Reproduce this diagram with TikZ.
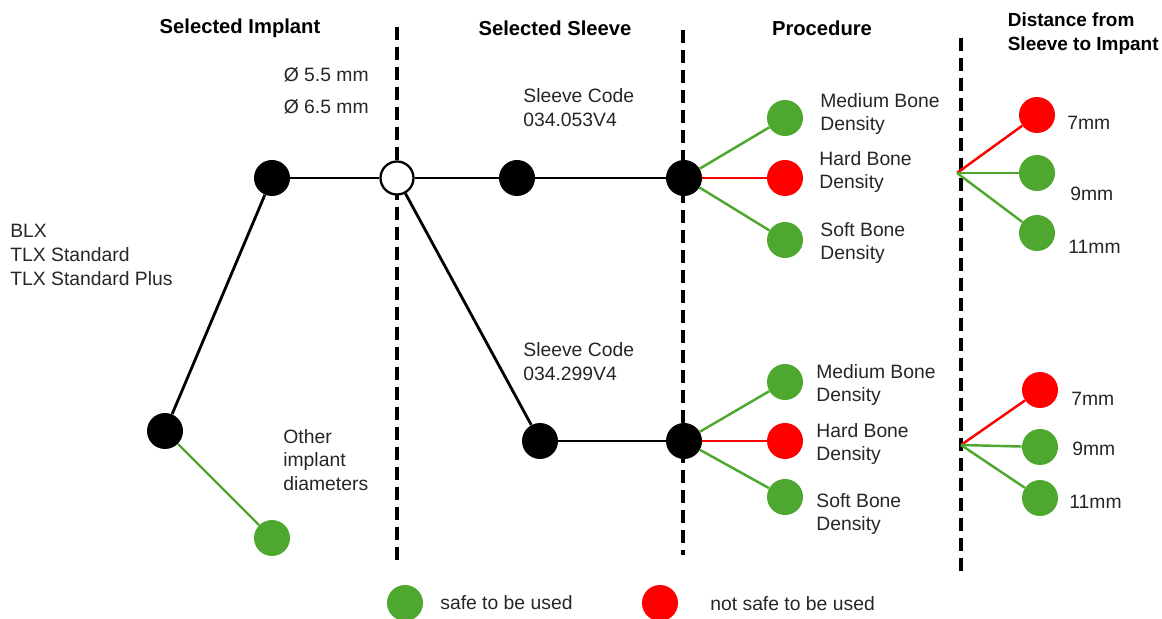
\documentclass[tikz,border=0pt]{standalone}
\usepackage{fontspec}
\setmainfont{Liberation Sans}
\usepackage{xcolor}
\usepackage{tikz}
\usetikzlibrary{positioning}
\definecolor{safeGreen}{HTML}{4EA72E}
\definecolor{unsafeRed}{HTML}{FF0000}
\definecolor{textGray}{HTML}{262626}

\begin{document}
\begin{tikzpicture}[x=0.2mm, y=-0.2mm,
    dot/.style={circle, fill=black, inner sep=0pt, minimum size=7.2mm},
    opendot/.style={circle, draw=black, fill=white, line width=1.3pt, inner sep=0pt, minimum size=6.6mm},
    safe/.style={circle, fill=safeGreen, inner sep=0pt, minimum size=7.2mm},
    unsafe/.style={circle, fill=unsafeRed, inner sep=0pt, minimum size=7.2mm},
    heading/.style={font=\fontsize{11.5}{13.6}\selectfont\bfseries, align=center, text=black},
    label/.style={anchor=west, inner sep=0pt, align=left, text=textGray, font=\fontsize{11}{13.6}\selectfont},
    link/.style={line width=1.6pt, black},
    greenlink/.style={line width=1.4pt, safeGreen},
    redlink/.style={line width=1.4pt, unsafeRed},
    divider/.style={line width=1.8pt, dash pattern=on 2.6mm off 1.4mm},
]
\useasboundingbox (0,0) rectangle (1162,619);
% column headings
\node[heading] (hImplant) at (240,28) {Selected Implant};
\node[heading] (hSleeve) at (555,28) {Selected Sleeve};
\node[heading] (hProc) at (822,28) {Procedure};
\node[heading, anchor=east, align=left, inner sep=0pt,
      font=\fontsize{10.8}{13.6}\selectfont\bfseries] (hDist) at (1159,34) {Distance from\\Sleeve to Impant};
% dividers
\draw[divider] (397,27) -- (397,562);
\draw[divider] (683,30) -- (683,555);
\draw[divider] (961,38) -- (961,575);

% implants
\node[dot] (root) at (165,431) {};
\node[dot] (implant) at (272,178) {};
\node[safe] (other) at (272,538) {};
\node[label] (brands) at (10,255) {BLX\\TLX Standard\\TLX Standard Plus};
\node[label, anchor=east] (diam) at (369,91) {Ø 5.5 mm\\[1.6mm]Ø 6.5 mm};
\node[label] (otherTxt) at (283,460) {Other\\implant\\diameters};

% sleeves
\node[opendot] (split) at (397,178) {};
\node[dot] (sleeveA) at (517,178) {};
\node[dot] (sleeveB) at (540,441) {};
\node[label] (codeA) at (523,108) {Sleeve Code\\034.053V4};
\node[label] (codeB) at (523,362) {Sleeve Code\\034.299V4};

% procedures
\node[dot] (procA) at (684,178) {};
\node[dot] (procB) at (684,441) {};
\node[safe] (medA) at (785,118) {};
\node[unsafe] (hardA) at (785,178) {};
\node[safe] (softA) at (785,240) {};
\node[safe] (medB) at (785,382) {};
\node[unsafe] (hardB) at (785,441) {};
\node[safe] (softB) at (785,497) {};
\node[label] (medAtxt) at (820,114) {Medium Bone\\Density};
\node[label] (hardAtxt) at (819,172) {Hard Bone\\Density};
\node[label] (softAtxt) at (820,243) {Soft Bone\\Density};
\node[label] (medBtxt) at (816,385) {Medium Bone\\Density};
\node[label] (hardBtxt) at (816,444) {Hard Bone\\Density};
\node[label] (softBtxt) at (816,514) {Soft Bone\\Density};

% distances
\coordinate (distA) at (957,173);
\coordinate (distB) at (961,445);
\node[unsafe] (d7A) at (1037,115) {};
\node[safe] (d9A) at (1037,173) {};
\node[safe] (d11A) at (1037,233) {};
\node[unsafe] (d7B) at (1040,390) {};
\node[safe] (d9B) at (1040,447) {};
\node[safe] (d11B) at (1040,498) {};
\node[label] (t7A) at (1067,123) {7mm};
\node[label] (t9A) at (1070,194) {9mm};
\node[label] (t11A) at (1068,247) {11mm};
\node[label] (t7B) at (1071,399) {7mm};
\node[label] (t9B) at (1072,449) {9mm};
\node[label] (t11B) at (1069,502) {11mm};

% legend
\node[safe] (keySafe) at (405,603) {};
\node[label] (keySafeTxt) at (440,603) {safe to be used};
\node[unsafe] (keyUnsafe) at (660,603) {};
\node[label] (keyUnsafeTxt) at (710,604) {not safe to be used};

% connectors
\draw[link] (root) -- (implant);
\draw[greenlink] (root) -- (other);
\draw[link] (implant) -- (split);
\draw[link] (split) -- (sleeveA);
\draw[link] (split) -- (sleeveB);
\draw[link] (sleeveA) -- (procA);
\draw[link] (sleeveB) -- (procB);
\draw[greenlink] (procA) -- (medA);
\draw[redlink] (procA) -- (hardA);
\draw[greenlink] (procA) -- (softA);
\draw[greenlink] (procB) -- (medB);
\draw[redlink] (procB) -- (hardB);
\draw[greenlink] (procB) -- (softB);
\draw[redlink] (distA) -- (d7A);
\draw[greenlink] (distA) -- (d9A);
\draw[greenlink] (distA) -- (d11A);
\draw[redlink] (distB) -- (d7B);
\draw[greenlink] (distB) -- (d9B);
\draw[greenlink] (distB) -- (d11B);
\end{tikzpicture}
\end{document}
